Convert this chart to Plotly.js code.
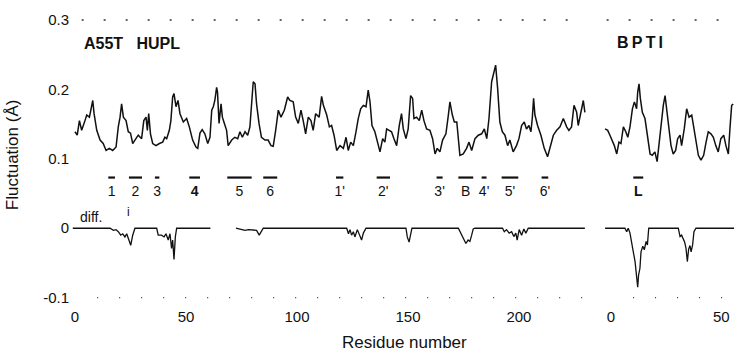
<!DOCTYPE html>
<html><head><meta charset="utf-8">
<script src="https://cdn.plot.ly/plotly-3.0.1.min.js"></script>
<style>html,body{margin:0;padding:0;background:#fff}#chart{width:734px;height:353px}</style>
</head><body><div id="chart"></div>
<script>
// ---- HUPL (A55T) fluctuation, residue vs. Å ----
const huplRes = [0,1,2,3,4.5,5.3,6.5,8,8.6,9.8,11.3,12.7,14,15.5,17,18.5,19.5,20.3,21,21.8,23,24,25,26,27,28.5,30,31,32,32.6,33.2,34,35,36.5,38,39.5,40.5,41.3,42.5,43.2,44,44.6,45.5,46.4,47.3,48.8,50.3,51.5,53,54.5,55.3,56.3,57.3,58.5,59.8,60.8,61.6,62.3,63,63.8,64.2,64.9,65.8,66.4,67.3,68.3,69,70.6,72,73.3,74.3,75.4,76.6,77.8,78.8,79.6,80.3,81.1,81.8,82.9,84,85.6,87,88.3,89.3,90.4,91.6,92.8,94.3,95.8,96.8,98.3,99.4,100.6,101.8,102.8,103.9,105.1,106.3,107.3,108.4,110,111.1,111.9,113.4,114.6,115.6,116.7,117.9,119.4,120.9,122.1,123.1,124.2,125.4,126.6,127.6,128.7,129.9,131.1,132.1,132.9,133.8,135.1,136.2,137.4,138.6,139.6,140.4,141.6,142.6,143.7,144.9,146.1,147.1,147.9,149.1,150.1,151.2,152.1,152.7,153.9,155.1,156.2,157.2,158.4,159.9,161.1,162.2,163.2,164.4,165.6,167.1,168.2,168.9,170,170.9,172,172.7,173.4,174.9,176.4,177.5,178.7,180.2,181.7,183.2,184.4,185.5,186.5,187.7,188.9,189.5,190.4,191.4,192.5,193.7,194.9,195.9,197.4,198.9,200,201.2,202.4,203.4,204.5,205.4,206,206.6,207.2,208.4,209.9,211.4,212.9,214.4,215.5,217,218.5,220,221.5,222.5,223.7,224.8,226,226.7,227.9,229,229.7];
const huplFluct = [0.139,0.134,0.155,0.141,0.155,0.163,0.160,0.184,0.165,0.141,0.127,0.122,0.112,0.115,0.112,0.117,0.146,0.160,0.179,0.160,0.155,0.139,0.137,0.122,0.127,0.134,0.129,0.155,0.160,0.141,0.165,0.136,0.122,0.119,0.122,0.124,0.131,0.129,0.141,0.155,0.189,0.194,0.175,0.184,0.165,0.153,0.158,0.146,0.127,0.117,0.115,0.137,0.142,0.136,0.122,0.131,0.170,0.175,0.184,0.203,0.196,0.151,0.179,0.160,0.151,0.141,0.119,0.127,0.131,0.129,0.139,0.131,0.139,0.134,0.146,0.184,0.211,0.208,0.179,0.151,0.131,0.127,0.127,0.119,0.118,0.141,0.170,0.160,0.170,0.189,0.184,0.182,0.160,0.151,0.170,0.155,0.136,0.160,0.155,0.141,0.165,0.160,0.190,0.177,0.163,0.146,0.148,0.134,0.112,0.119,0.115,0.131,0.112,0.124,0.119,0.139,0.158,0.172,0.177,0.175,0.199,0.182,0.148,0.139,0.124,0.110,0.129,0.124,0.143,0.141,0.139,0.129,0.119,0.148,0.165,0.143,0.129,0.143,0.191,0.187,0.158,0.160,0.155,0.170,0.155,0.143,0.141,0.129,0.107,0.115,0.110,0.127,0.136,0.163,0.182,0.163,0.153,0.153,0.124,0.105,0.107,0.115,0.124,0.112,0.129,0.134,0.136,0.143,0.129,0.158,0.211,0.230,0.235,0.201,0.153,0.139,0.134,0.119,0.127,0.110,0.119,0.129,0.148,0.153,0.143,0.148,0.139,0.158,0.187,0.163,0.148,0.134,0.115,0.103,0.119,0.134,0.141,0.146,0.158,0.146,0.141,0.146,0.177,0.167,0.148,0.167,0.184,0.167];

// ---- HUPL difference (A55T - wild type) ----
const huplDiffRes = [-1,15.8,17.3,18.5,19.5,20.6,21.5,22.5,23.3,24,25.1,26,27,36.8,37.5,39,40.1,41,42,42.8,43.5,44,44.6,45.2,45.8,61,null,72.5,74.3,76.6,78.1,80,81.8,83,83.8,84.8,122.4,123.2,123.9,124.6,125.4,126.1,127.2,128.4,129.1,129.9,131.1,149.1,149.7,150.5,151.2,151.8,172.7,173.9,174.9,176.1,177.1,177.9,178.7,179.4,180.2,192.6,193.4,194.4,195.6,196.7,197.7,198.6,199.2,200.1,201.2,202.2,203.1,204.2,229.7];
const huplDiff = [0,0,-0.003,-0.002,-0.005,-0.010,-0.008,-0.0125,-0.008,-0.015,-0.0245,-0.010,0,0,-0.010,-0.010,-0.0125,-0.008,-0.017,-0.008,-0.029,-0.017,-0.045,-0.0125,0,0,null,0,-0.001,-0.003,-0.002,-0.002,-0.003,-0.010,-0.005,0,0,-0.008,-0.002,-0.010,-0.005,-0.0125,-0.002,-0.010,-0.017,-0.007,0,0,-0.0125,-0.020,-0.010,0,0,-0.007,-0.015,-0.022,-0.017,-0.019,-0.010,-0.001,0,0,-0.005,-0.002,-0.007,-0.005,-0.012,-0.007,-0.017,-0.002,-0.010,-0.001,-0.007,0,0];

// ---- BPTI fluctuation ----
const bptiRes = [-2.7,-1.5,-0.5,0.6,1.5,2.6,3.6,4.5,5.6,6.7,7.6,8.6,9.7,10.6,11.6,12.1,12.7,13.3,14.2,15.4,16.6,17.7,18.7,19.9,20.9,21.8,22.7,23.7,24.5,25.2,26,27.2,28.2,29.3,30.2,31.3,32,33.2,34.3,35.4,36.6,37.6,38.5,39.6,40.8,42,43.1,44.1,45.3,46.4,47.5,48.6,49.8,51.1,52.1,53.2,53.9,54.7,55.4];
const bptiFluct = [0.143,0.141,0.134,0.127,0.119,0.107,0.124,0.122,0.146,0.139,0.131,0.146,0.172,0.182,0.172,0.196,0.208,0.187,0.167,0.158,0.134,0.107,0.105,0.110,0.096,0.124,0.153,0.177,0.191,0.172,0.143,0.119,0.107,0.112,0.129,0.134,0.119,0.143,0.172,0.160,0.163,0.143,0.124,0.105,0.098,0.105,0.124,0.139,0.136,0.131,0.119,0.110,0.129,0.134,0.119,0.107,0.143,0.177,0.179];

// ---- BPTI difference ----
const bptiDiffRes = [-2.7,6.3,7.1,7.8,8.6,9.4,10.1,10.9,11.6,12.1,12.5,13.1,13.6,14.4,15.1,15.9,16.5,17.1,30.5,31.3,32,32.8,33.4,34,34.6,35.2,35.8,36.3,37,37.6,38.5,56];
const bptiDiff = [0,0,-0.005,0,-0.007,-0.019,-0.034,-0.048,-0.067,-0.085,-0.067,-0.058,-0.034,-0.026,-0.031,-0.019,-0.024,0,0,-0.012,-0.010,-0.017,-0.020,-0.029,-0.048,-0.030,-0.025,-0.034,-0.024,-0.005,0,0];

// ---- secondary structure elements ----
const ssLabelsHUPL = ['1','2','3','4','5','6',"1'","2'","3'",'B',"4'","5'","6'"];
const ssStartHUPL = [15,24.3,36,51.5,68.6,84.8,117.6,135.9,162.9,172.7,183.2,192.2,210.2];
const ssEndHUPL   = [18,30.2,38,56.3,79.6,91.1,120.9,141.9,165.6,179.4,185.4,199.7,213.2];
const ssLabelsBPTI = ['L'];
const ssStartBPTI = [10.1];
const ssEndBPTI = [14.6];
const boldLabels = ['4','L'];

// ---- axis ticks ----
const yTicks = [-0.1,0,0.1,0.2,0.3];
const yTickText = ['-0.1','0','0.1','0.2','0.3'];
const xTicksHUPL = [0,50,100,150,200];
const xTicksBPTI = [0,50];

const FONT = '"Liberation Sans", Arial, Helvetica, sans-serif';
const INK = '#111';
const BAR_Y = 0.073, LABEL_Y = 0.052;

function barTrace(starts, ends, xa){
  const xs=[], ys=[];
  starts.forEach((s,i)=>{ xs.push(s, ends[i], null); ys.push(BAR_Y, BAR_Y, null); });
  return {x:xs, y:ys, xaxis:xa, yaxis:'y', mode:'lines', line:{color:INK,width:2.2}, hoverinfo:'skip', showlegend:false};
}
function labelTrace(starts, ends, labels, xa){
  return {x:starts.map((s,i)=>(s+ends[i])/2), y:labels.map(()=>LABEL_Y), xaxis:xa, yaxis:'y',
    mode:'text', text:labels.map(l=>boldLabels.includes(l)?'<b>'+l+'</b>':l),
    textfont:{family:FONT,size:14,color:INK}, textposition:'middle center', hoverinfo:'skip', showlegend:false};
}
const lineStyle = {color:INK, width:1.5};
const traces = [
  {x:huplRes, y:huplFluct, xaxis:'x', yaxis:'y', mode:'lines', line:lineStyle, showlegend:false},
  {x:huplDiffRes, y:huplDiff, xaxis:'x', yaxis:'y', mode:'lines', line:{color:INK,width:1.3}, connectgaps:false, showlegend:false},
  {x:bptiRes, y:bptiFluct, xaxis:'x2', yaxis:'y', mode:'lines', line:lineStyle, showlegend:false},
  {x:bptiDiffRes, y:bptiDiff, xaxis:'x2', yaxis:'y', mode:'lines', line:{color:INK,width:1.3}, showlegend:false},
  barTrace(ssStartHUPL, ssEndHUPL, 'x'),
  labelTrace(ssStartHUPL, ssEndHUPL, ssLabelsHUPL, 'x'),
  barTrace(ssStartBPTI, ssEndBPTI, 'x2'),
  labelTrace(ssStartBPTI, ssEndBPTI, ssLabelsBPTI, 'x2')
];

const axBase = {showgrid:false, zeroline:false, showline:false, ticks:'', tickfont:{family:FONT,size:15,color:INK}, fixedrange:true};
const layout = {
  width:734, height:353, margin:{l:70,r:0,t:13,b:47},
  paper_bgcolor:'#fff', plot_bgcolor:'#fff', showlegend:false,
  font:{family:FONT,color:INK},
  xaxis:Object.assign({}, axBase, {domain:[0,0.7831], range:[-2.25,232], tickvals:xTicksHUPL, anchor:'y'}),
  xaxis2:Object.assign({}, axBase, {domain:[0.7922,1], range:[-6.8,55.76], tickvals:xTicksBPTI, anchor:'y'}),
  yaxis:Object.assign({}, axBase, {range:[-0.112,0.31], tickvals:yTicks, ticktext:yTickText, anchor:'x'}),
  shapes:[
    {type:'line', xref:'x', yref:'y', x0:3, x1:230, y0:0.3, y1:0.3, line:{color:'#333',width:1.4,dash:'2px,20px'}},
    {type:'line', xref:'x2', yref:'y', x0:-2, x1:55, y0:0.3, y1:0.3, line:{color:'#333',width:1.4,dash:'2px,20px'}},
    {type:'line', xref:'x', yref:'y', x0:10, x1:230, y0:-0.1, y1:-0.1, line:{color:'#333',width:1.4,dash:'1px,21px'}},
    {type:'line', xref:'x2', yref:'y', x0:10, x1:55, y0:-0.1, y1:-0.1, line:{color:'#333',width:1.4,dash:'1px,21px'}}
  ],
  annotations:[
    {text:'<b>A55T   HUPL</b>', xref:'x', yref:'y', x:3.2, y:0.266, xanchor:'left', yanchor:'middle', showarrow:false, font:{family:FONT,size:16,color:INK}},
    {text:'<b>B\u2009P\u2009T\u2009I</b>', xref:'x2', yref:'y', x:1.8, y:0.268, xanchor:'left', yanchor:'middle', showarrow:false, font:{family:FONT,size:16,color:INK}},
    {text:'diff.', xref:'x', yref:'y', x:1.4, y:0.002, xanchor:'left', yanchor:'bottom', showarrow:false, font:{family:FONT,size:14,color:INK}},
    {text:'i', xref:'x', yref:'y', x:23.9, y:0.024, xanchor:'center', yanchor:'middle', showarrow:false, font:{family:FONT,size:12,color:INK}},
    {text:'Residue number', xref:'paper', yref:'paper', x:0.5045, y:-0.126, xanchor:'center', yanchor:'middle', showarrow:false, font:{family:FONT,size:17,color:INK}},
    {text:'Fluctuation (Å)', xref:'paper', yref:'paper', x:-0.0873, y:0.515, xanchor:'center', yanchor:'middle', textangle:-90, showarrow:false, font:{family:FONT,size:17,color:INK}}
  ]
};
Plotly.newPlot('chart', traces, layout, {staticPlot:true, displayModeBar:false});
</script></body></html>
